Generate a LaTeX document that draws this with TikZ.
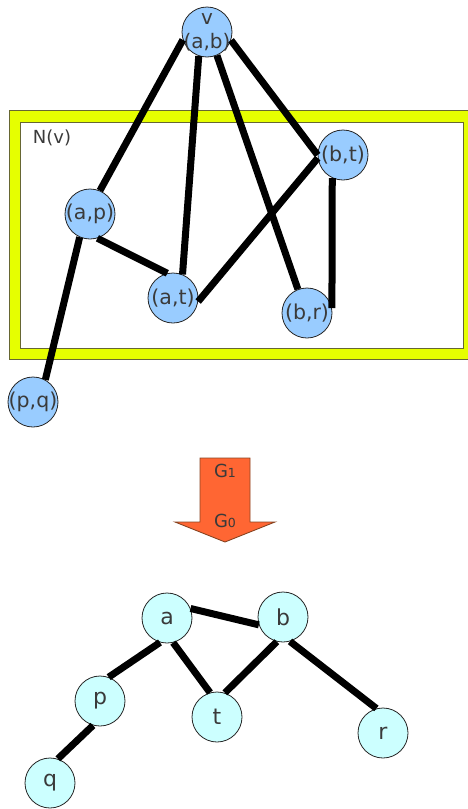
\documentclass[tikz,border=0pt]{standalone}
\usepackage{fontspec}
\setmainfont{DejaVu Sans}
\definecolor{topblue}{HTML}{99CCFF}
\definecolor{botcyan}{HTML}{CCFFFF}
\definecolor{frameyellow}{HTML}{E6FF00}
\definecolor{frameolive}{HTML}{666633}
\definecolor{arrowfill}{HTML}{FF6633}
\definecolor{arrowline}{HTML}{884422}
\definecolor{txt}{HTML}{3A3A3A}
\newcommand{\zw}[1]{\makebox[0pt]{#1}}
\begin{document}
\begin{tikzpicture}[x=1pt,y=-1pt,
  topnode/.style={circle, draw=black!85, line width=0.8pt, fill=topblue, minimum size=50pt, inner sep=0pt, text=txt, font=\fontsize{20.5}{24}\selectfont},
  botnode/.style={circle, draw=black!85, line width=0.8pt, fill=botcyan, minimum size=50pt, inner sep=0pt, text=txt, font=\fontsize{22}{26}\selectfont},
  edge/.style={line width=7pt, black},
  lbl/.style={text=txt, inner sep=0pt}]
\useasboundingbox (0,0) rectangle (467,809);

% yellow frame N(v)
\fill[frameyellow, even odd rule] (9.5,110) rectangle (475,359) (20.7,122) rectangle (463,348);
\draw[frameolive, line width=0.9pt] (9.5,110) rectangle (475,359);
\draw[frameolive, line width=0.9pt] (20.7,122) rectangle (463,348);
\node[lbl, font=\fontsize{18}{22}\selectfont] (nv) at (52,138) {N(v)};

% top graph nodes
\node[topnode, label={[text=txt, align=center, font=\fontsize{20}{24}\selectfont]center:v\\(a,b)}] (v) at (207,32) {};
\node[topnode] (ap) at (90,214) {\zw{(a,p)}};
\node[topnode] (at) at (173,298) {\zw{(a,t)}};
\node[topnode] (bt) at (343,155) {\zw{(b,t)}};
\node[topnode] (br) at (307,313) {\zw{(b,r)}};
\node[topnode] (pq) at (33,402) {\zw{(p,q)}};

% top graph edges
\draw[edge] (v.198) -- (ap.67);
\draw[edge] (v.251) -- (at.68);
\draw[edge] (v.293) -- (br.111);
\draw[edge] (v.341) -- (bt.180);
\draw[edge] (ap.287) -- (at.103);
\draw[edge] (at.352) -- (bt.187);
\draw[edge] (bt.245) -- (br.11);
\draw[edge] (ap.246) -- (pq.61);

% block arrow
\draw[fill=arrowfill, draw=arrowline, line width=0.9pt, line join=miter]
  (200,458) -- (250,458) -- (250,522) -- (275,522) -- (225,542) -- (175,522) -- (200,522) -- cycle;
\node[lbl, font=\fontsize{18}{20}\selectfont] (g1) at (225,471) {G{\fontsize{12.5}{14}\selectfont 1}};
\node[lbl, font=\fontsize{18}{20}\selectfont] (g0) at (225,521) {G{\fontsize{12.5}{14}\selectfont 0}};

% bottom graph nodes
\node[botnode] (a) at (167,618) {a};
\node[botnode] (b) at (283,617) {b};
\node[botnode] (p) at (100,701) {p};
\node[botnode] (t) at (217,717) {t};
\node[botnode] (r) at (383,733) {r};
\node[botnode] (q) at (50,783) {q};

% bottom graph edges
\draw[edge] (a.22) -- (b.198);
\draw[edge] (a.254) -- (p.70);
\draw[edge] (a.284) -- (t.106);
\draw[edge] (b.256) -- (t.72);
\draw[edge] (b.286) -- (r.105);
\draw[edge] (p.254) -- (q.72);
\end{tikzpicture}
\end{document}
